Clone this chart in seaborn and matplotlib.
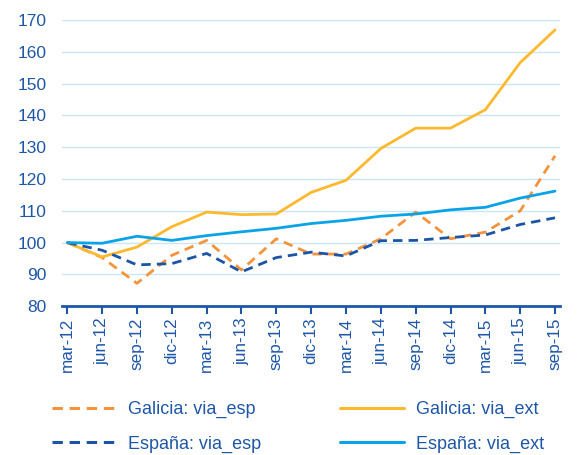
import pandas as pd
import matplotlib.pyplot as plt
import seaborn as sns
from matplotlib.lines import Line2D

#------------------------------------------------
periods = ['mar-12', 'jun-12', 'sep-12', 'dic-12', 'mar-13', 'jun-13', 'sep-13', 'dic-13',
           'mar-14', 'jun-14', 'sep-14', 'dic-14', 'mar-15', 'jun-15', 'sep-15']

galicia_esp = [100, 95.3, 87.2, 96.0, 100.7, 91.4, 101.2, 96.4, 96.4, 101.2, 109.6, 101.2, 103.3, 110.0, 127.3]
galicia_ext = [100, 95.5, 98.6, 105.0, 109.6, 108.8, 109.0, 115.8, 119.6, 129.6, 136.0, 136.0, 141.8, 156.6, 166.9]
espana_esp = [100, 97.6, 93.0, 93.4, 96.6, 90.8, 95.3, 97.0, 95.8, 100.6, 100.7, 101.6, 102.4, 105.7, 107.8]
espana_ext = [100, 99.8, 102.0, 100.7, 102.2, 103.4, 104.5, 106.0, 107.0, 108.3, 109.0, 110.3, 111.1, 114.0, 116.2]

series = {
    'Galicia: via_esp': galicia_esp,
    'Galicia: via_ext': galicia_ext,
    'España: via_esp': espana_esp,
    'España: via_ext': espana_ext,
}
colors = {
    'Galicia: via_esp': '#F5933C',
    'Galicia: via_ext': '#FDB92E',
    'España: via_esp': '#1C55A6',
    'España: via_ext': '#0BA3E8',
}
dashes = {
    'Galicia: via_esp': (3.4, 2.2),
    'Galicia: via_ext': '',
    'España: via_esp': (3.4, 2.2),
    'España: via_ext': '',
}
txt_col = '#1F57A8'

#########################################################
rows = []
for name, vals in series.items():
    for i, v in enumerate(vals):
        rows.append({'x': i, 'valor': v, 'serie': name})
df = pd.DataFrame(rows)

sns.set_style('white')
plt.rcParams['font.family'] = ['Liberation Sans', 'DejaVu Sans']

fig = plt.figure(figsize=(5.8, 4.55), dpi=100)
ax = fig.add_axes([0.107, 0.327, 0.859, 0.629])

sns.lineplot(data=df, x='x', y='valor', hue='serie', style='serie',
             palette=colors, dashes=dashes, hue_order=list(series),
             style_order=list(series), linewidth=2.0, ax=ax, legend=False)

#axes
ax.set_ylim(80, 170)
ax.set_yticks(range(80, 171, 10))
ax.set_xlim(-0.15, 14.15)
ax.set_xticks(range(len(periods)))
ax.set_xticklabels(periods, rotation=90)
ax.set_xlabel('')
ax.set_ylabel('')
ax.grid(axis='y', color='#C8E6F6', linewidth=1)
ax.set_axisbelow(True)
for s in ['top', 'right', 'left']:
    ax.spines[s].set_visible(False)
ax.spines['bottom'].set_color(txt_col)
ax.spines['bottom'].set_linewidth(2)
ax.tick_params(axis='x', colors=txt_col, labelsize=12.3, length=6, width=1.5,
               direction='out', bottom=True, pad=2)
ax.tick_params(axis='y', colors=txt_col, labelsize=12.5, length=0, pad=11)

#legend
order = ['Galicia: via_esp', 'España: via_esp', 'Galicia: via_ext', 'España: via_ext']
handles = [Line2D([], [], color=colors[n], linewidth=2.2,
                  linestyle=(0, dashes[n]) if dashes[n] else '-') for n in order]
leg = fig.legend(handles, order, ncol=2, loc='center left', bbox_to_anchor=(52/580, 0.062),
                 frameon=False, fontsize=13, handlelength=3.5, columnspacing=4.4,
                 labelspacing=0.95, handletextpad=0.7, borderpad=0, borderaxespad=0)
for t in leg.get_texts():
    t.set_color(txt_col)

plt.savefig('out.png', dpi=100)
plt.close()
